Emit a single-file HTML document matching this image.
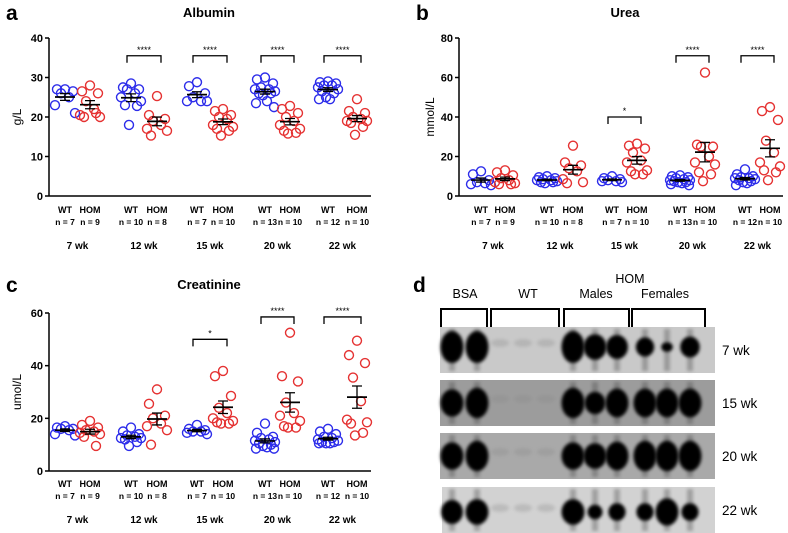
<!DOCTYPE html>
<html><head><meta charset="utf-8">
<style>
html,body{margin:0;padding:0;background:#fff;}
svg{display:block;font-family:"Liberation Sans",Arial,sans-serif;}
</style></head>
<body>
<svg id="fig" width="788" height="533" viewBox="0 0 788 533" xmlns="http://www.w3.org/2000/svg">
<defs>
<filter id="blur2" x="-50%" y="-50%" width="200%" height="200%"><feGaussianBlur stdDeviation="1.6"/></filter>
</defs>
<g id="charts"></g>
<g id="gel"></g>
</svg>
<script>
// ---------- data ----------
const groups = ["7 wk","12 wk","15 wk","20 wk","22 wk"];
const wtN = ["n = 7","n = 10","n = 7","n = 13","n = 12"];
const homN = ["n = 9","n = 8","n = 10","n = 10","n = 10"];

const albuminWT = [
 [27,27,26.5,26,25,23,21],
 [28.5,27.5,27,27,26,25,24,23,22.8,18],
 [28.8,27.8,26,25,24,24,24],
 [30,29.5,28.5,27.5,27,27,26.5,26,26,25.5,24,23.5,22.5],
 [29,28.8,28.5,28,28,27.5,27,26.5,26,25,24.5,24.5]
];
const albuminHOM = [
 [28,26.5,26,24,22,20.5,20,20,21],
 [25.3,20.5,19.5,19,18,17,16.5,15.3],
 [22,21.5,20.5,20,19.5,18,17.5,17,16.5,15.3],
 [22.8,22,21,20,19,18,17,16.5,16,15.8],
 [24.5,21.5,21,20,19.5,19,19,18.5,17.5,15.5]
];
const albuminTicks = [0,10,20,30,40];
const albuminSig = ["","****","****","****","****"];
const albuminSigLevel = [0,35.5,35.5,35.5,35.5];

const ureaWT = [
 [12.5,11,8,7,6.5,6,5.5],
 [10,9.5,9,8.5,8,8,7.5,7,7,6.5],
 [10,9,8.5,8,7.5,7.5,7],
 [10.5,10,9.5,9,8.5,8,8,7.5,7,7,6.5,6,5.5],
 [13.5,11,10,9.5,9,9,8.5,8,7.5,7,6.5,5.5]
];
const ureaHOM = [
 [13,12,10.5,9,8,7,6.5,6,6],
 [25.5,17,15.5,14,12.5,8.5,7,6.5],
 [26.5,25.5,24,22,18,17,13,12.5,11,11],
 [62.5,26,25,25,20,17,16,12,11,7.5],
 [45,43,38.5,28,22,17,15,13,12,8]
];
const ureaTicks = [0,20,40,60,80];
const ureaSig = ["","","*","****","****"];
const ureaSigLevel = [0,0,40,71,71];

const creatWT = [
 [17,16.5,16,16,15.5,14,13.5],
 [16.5,15,14,13.5,13,12.5,12.5,12,11,9.5],
 [17.5,16,15.5,15,15,14.5,14],
 [18,14.5,13,12.5,12,11.5,11,10.5,10,9.5,9,8.5,8.5],
 [16,15,14,13,12.5,12,11.5,11,11,10.5,10.5,10.5]
];
const creatHOM = [
 [19,17.5,16.5,15.5,15,14.5,14,13,9.5],
 [31,25.5,21,20,18,17,15.5,10],
 [38,36,28.5,24,22,20,19,18.5,18,18],
 [52.5,36,34,26,22,21,19,17,16.5,16.5],
 [49.5,44,41,35.5,26.5,19.5,18.5,18,14.5,13.5]
];
const creatTicks = [0,20,40,60];
const creatSig = ["","","*","****","****"];
const creatSigLevel = [0,0,50,58.5,58.5];

const NS="http://www.w3.org/2000/svg";
function mk(tag, attrs, parent){const e=document.createElementNS(NS,tag);for(const k in attrs)e.setAttribute(k,attrs[k]);parent.appendChild(e);return e;}
function mean(a){return a.reduce((s,v)=>s+v,0)/a.length;}
function sem(a){const m=mean(a);const sd=Math.sqrt(a.reduce((s,v)=>s+(v-m)*(v-m),0)/(a.length-1));return sd/Math.sqrt(a.length);}
const jit=[0,-8,8,-4,4,-10,10,-6,6,-2,2,-9,9];

function drawChart(cfg){
  const root=document.getElementById('charts');
  const g=mk('g',{},root);
  
  
  const yS=v=>cfg.y0-(v/cfg.max)*(cfg.y0-cfg.yTop);
  const wtX=i=>cfg.wtX[i], homX=i=>cfg.homX[i];
  const lt=mk('text',{x:cfg.letterX,y:cfg.letterY,'font-size':21,'font-weight':'bold',fill:'#000'},g);lt.textContent=cfg.letter;
  
  
  const tt=mk('text',{x:cfg.titleX,y:cfg.titleY,'font-size':13,'font-weight':'bold','text-anchor':'middle',fill:'#000'},g);tt.textContent=cfg.title;
  
  
  const ya=mk('line',{x1:cfg.ax,y1:cfg.yTop,x2:cfg.ax,y2:cfg.y0,stroke:'#000','stroke-width':1.5},g);
  
  
  const xa=mk('line',{x1:cfg.ax,y1:cfg.y0,x2:cfg.xEnd,y2:cfg.y0,stroke:'#000','stroke-width':1.5},g);
  
  
  cfg.ticks.forEach(t=>{
    mk('line',{x1:cfg.ax-4,y1:yS(t),x2:cfg.ax,y2:yS(t),stroke:'#000','stroke-width':1.5},g);
    const tl=mk('text',{x:cfg.ax-6,y:yS(t)+4,'font-size':11,'font-weight':'bold','text-anchor':'end'},g);tl.textContent=t;
    
    
  });
  const yt=mk('text',{x:0,y:0,'font-size':12,'text-anchor':'middle',transform:`translate(${cfg.ytX},${(cfg.yTop+cfg.y0)/2}) rotate(-90)`},g);yt.textContent=cfg.ytitle;
  
  
  groups.forEach((gn,i)=>{
    const lab=[[wtX(i),'WT',cfg.labY,9],[homX(i),'HOM',cfg.labY,9],[wtX(i),wtN[i],cfg.labY+12,8.5],[homX(i),homN[i],cfg.labY+12,8.5]];
    lab.forEach(l=>{const t=mk('text',{x:l[0],y:l[2],'font-size':l[3],'font-weight':'bold','text-anchor':'middle'},g);t.textContent=l[1];
      
      });
    const wk=mk('text',{x:(wtX(i)+homX(i))/2,y:cfg.labY+36,'font-size':10,'font-weight':'bold','text-anchor':'middle'},g);wk.textContent=gn;
    
    
    [[cfg.wt[i],wtX(i),'#2d2dea','wt'],[cfg.hom[i],homX(i),'#e53232','hom']].forEach(s=>{
      const arr=s[0],cx=s[1];
      arr.forEach((v,j)=>{
        const off=jit[j%jit.length];
        const c=mk('circle',{cx:cx+off,cy:yS(v),r:4.5,fill:'none',stroke:s[2],'stroke-width':1.4},g);
        
        
      });
      const m=mean(arr),se=sem(arr);
      const ml=mk('line',{x1:cx-10,y1:yS(m),x2:cx+10,y2:yS(m),stroke:'#000','stroke-width':1.7},g);
      
      
      const eb=mk('path',{d:`M${cx-5},${yS(m+se)}H${cx+5}M${cx},${yS(m+se)}V${yS(m-se)}M${cx-5},${yS(m-se)}H${cx+5}`,stroke:'#000','stroke-width':1.3,fill:'none'},g);
      
      
    });
    if(cfg.sig[i]){
      const by=yS(cfg.sigLevel[i]);
      const br=mk('path',{d:`M${wtX(i)-4},${by+7}V${by}H${homX(i)+4}V${by+7}`,stroke:'#000','stroke-width':1.3,fill:'none'},g);
      
      
      const st=mk('text',{x:(wtX(i)+homX(i))/2,y:by-3,'font-size':9,'text-anchor':'middle'},g);st.textContent=cfg.sig[i];
      
      
    }
  });
}
drawChart({name:'albumin-chart',letter:'a',letterX:6,letterY:20,title:'Albumin',titleX:209,titleY:17,ax:49,xEnd:371,yTop:38,y0:196,max:40,ticks:albuminTicks,ytitle:'g/L',ytX:21,
  wtX:[65,131,197,265,328],homX:[90,157,223,290,357],wt:albuminWT,hom:albuminHOM,sig:albuminSig,sigLevel:albuminSigLevel,labY:213});
drawChart({name:'urea-chart',letter:'b',letterX:416,letterY:20,title:'Urea',titleX:625,titleY:17,ax:459,xEnd:783,yTop:38,y0:196,max:80,ticks:ureaTicks,ytitle:'mmol/L',ytX:434,
  wtX:[481,547,612,680,745],homX:[505,573,637,705,770],wt:ureaWT,hom:ureaHOM,sig:ureaSig,sigLevel:ureaSigLevel,labY:213});
drawChart({name:'creatinine-chart',letter:'c',letterX:6,letterY:292,title:'Creatinine',titleX:209,titleY:289,ax:49,xEnd:371,yTop:313,y0:471,max:60,ticks:creatTicks,ytitle:'umol/L',ytX:21,
  wtX:[65,131,197,265,328],homX:[90,157,223,290,357],wt:creatWT,hom:creatHOM,sig:creatSig,sigLevel:creatSigLevel,labY:487});

// ---------- gel panel ----------
const gel=document.getElementById('gel');
const dl=mk('text',{x:413,y:292,'font-size':21,'font-weight':'bold'},gel);dl.textContent='d';


[['BSA',465,298],['WT',528,298],['HOM',630,283],['Males',596,298],['Females',665,298]].forEach(l=>{
  const t=mk('text',{x:l[1],y:l[2],'font-size':12.5,'text-anchor':'middle'},gel);t.textContent=l[0];
  
  
});
[[441,487],[491,559],[564,629],[632,705]].forEach(b=>{
  const p=mk('path',{d:`M${b[0]},337V309H${b[1]}V337`,stroke:'#000','stroke-width':2,fill:'none'},gel);
  
  
});
const lanes=[452,477,500,523,546,573,595,617,645,667,690];
const gelRows=[
 {y:327,h:46,bg:'#c9c9c9',label:'7 wk',x0:440,dy:-3,sizes:[1,1,0.15,0.15,0.15,1,0.8,0.75,0.6,0.3,0.65]},
 {y:380,h:46,bg:'#9c9c9c',label:'15 wk',x0:440,dy:0,sizes:[0.85,0.95,0.15,0.15,0.15,0.95,0.7,0.9,0.9,0.9,0.9]},
 {y:433,h:46,bg:'#a9a9a9',label:'20 wk',x0:440,dy:0,sizes:[0.85,0.95,0.1,0.1,0.1,0.85,0.8,0.9,0.95,0.95,0.95]},
 {y:487,h:46,bg:'#d2d2d2',label:'22 wk',x0:442,dy:2,sizes:[0.75,0.8,0.1,0.1,0.1,0.8,0.45,0.55,0.55,0.85,0.55]}
];
gelRows.forEach((r,ri)=>{
  const rg=mk('g',{},gel);
  
  
  mk('rect',{x:r.x0,y:r.y,width:715-r.x0,height:r.h,fill:r.bg},rg);
  const cy=r.y+r.h/2+r.dy;
  lanes.forEach((lx,li)=>{
    const s=r.sizes[li];
    if(s<0.2){mk('ellipse',{cx:lx,cy:cy-4,rx:9,ry:4,fill:'#888','opacity':0.3,filter:'url(#blur2)'},rg);return;}
    mk('rect',{x:lx-3,y:r.y+2,width:6,height:r.h-4,fill:'#444',opacity:0.35,filter:'url(#blur2)'},rg);
    mk('ellipse',{cx:lx,cy:cy,rx:11.5*Math.min(1,s+0.2),ry:16*s,fill:'#050505',filter:'url(#blur2)'},rg);
  });
  const t=mk('text',{x:722,y:r.y+r.h/2+5,'font-size':13.5},rg);t.textContent=r.label;
  
  
});
</script>
</body></html>
